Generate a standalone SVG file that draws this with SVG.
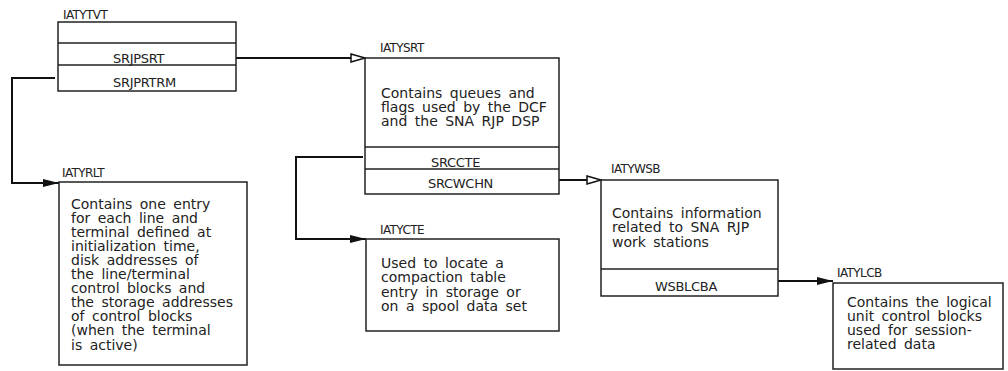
<svg xmlns="http://www.w3.org/2000/svg" width="1008" height="371" viewBox="0 0 1008 371">
<defs>
<style>
.box{fill:#fff;stroke:#222;stroke-width:1.5}
.div{stroke:#222;stroke-width:1.5}
.lbl{font-family:"DejaVu Sans",sans-serif;font-size:12px;fill:#222;letter-spacing:-0.6px}
.fld{font-family:"DejaVu Sans",sans-serif;font-size:13px;fill:#222;letter-spacing:-0.3px}
.txt{font-family:"DejaVu Sans",sans-serif;font-size:14px;fill:#222;word-spacing:3px}
.con{fill:none;stroke:#111;stroke-width:2}
</style>
<marker id="fa" viewBox="0 0 16 10" refX="16" refY="5" markerWidth="16" markerHeight="10" markerUnits="userSpaceOnUse" orient="auto">
<path d="M0,1 L16,5 L0,9 Z" fill="#111"/>
</marker>
<marker id="oa" viewBox="0 0 16 10" refX="15" refY="5" markerWidth="16" markerHeight="10" markerUnits="userSpaceOnUse" orient="auto">
<path d="M1,1 L15,5 L1,9 Z" fill="#fff" stroke="#111" stroke-width="1.5"/>
</marker>
</defs>
<rect width="1008" height="371" fill="#fff"/>

<g id="connectors">
<path class="con" d="M236,58 L365,58" marker-end="url(#oa)"/>
<path class="con" d="M55,78 L12,78 L12,183 L59,183" marker-end="url(#fa)"/>
<path class="con" d="M363,157 L296,157 L296,239 L366,239" marker-end="url(#fa)"/>
<path class="con" d="M559,180 L601,180" marker-end="url(#oa)"/>
<path class="con" d="M778,281 L833,281" marker-end="url(#fa)"/>
</g>

<g id="IATYTVT">
<text class="lbl" x="63" y="19">IATYTVT</text>
<rect class="box" x="58" y="22" width="178" height="69"/>
<line class="div" x1="58" y1="43" x2="236" y2="43"/>
<line class="div" x1="58" y1="65" x2="236" y2="65"/>
<text class="fld" x="113" y="63">SRJPSRT</text>
<text class="fld" x="113" y="87">SRJPRTRM</text>
</g>

<g id="IATYSRT">
<text class="lbl" x="380" y="52">IATYSRT</text>
<rect class="box" x="365" y="58" width="194" height="136"/>
<line class="div" x1="365" y1="147" x2="559" y2="147"/>
<line class="div" x1="365" y1="169" x2="559" y2="169"/>
<text class="txt" x="381" y="98">Contains queues and</text>
<text class="txt" x="381" y="112">flags used by the DCF</text>
<text class="txt" x="381" y="126">and the SNA RJP DSP</text>
<text class="fld" x="431" y="167">SRCCTE</text>
<text class="fld" x="428" y="188">SRCWCHN</text>
</g>

<g id="IATYRLT">
<text class="lbl" x="62" y="177">IATYRLT</text>
<rect class="box" x="59" y="182" width="188" height="183"/>
<text class="txt" x="71" y="208.5">Contains one entry</text>
<text class="txt" x="71" y="222.6">for each line and</text>
<text class="txt" x="71" y="236.7">terminal defined at</text>
<text class="txt" x="71" y="250.8">initialization time,</text>
<text class="txt" x="71" y="264.9">disk addresses of</text>
<text class="txt" x="71" y="279">the line/terminal</text>
<text class="txt" x="71" y="293.1">control blocks and</text>
<text class="txt" x="71" y="307.2">the storage addresses</text>
<text class="txt" x="71" y="321.3">of control blocks</text>
<text class="txt" x="71" y="335.4">(when the terminal</text>
<text class="txt" x="71" y="349.5">is active)</text>
</g>

<g id="IATYCTE">
<text class="lbl" x="380" y="234">IATYCTE</text>
<rect class="box" x="366" y="239" width="193" height="92"/>
<text class="txt" x="381" y="268">Used to locate a</text>
<text class="txt" x="381" y="282.3">compaction table</text>
<text class="txt" x="381" y="296.6">entry in storage or</text>
<text class="txt" x="381" y="311">on a spool data set</text>
</g>

<g id="IATYWSB">
<text class="lbl" x="611" y="173">IATYWSB</text>
<rect class="box" x="601" y="180" width="177" height="116"/>
<line class="div" x1="601" y1="269" x2="778" y2="269"/>
<text class="txt" x="612" y="218">Contains information</text>
<text class="txt" x="612" y="232.3">related to SNA RJP</text>
<text class="txt" x="612" y="246.6">work stations</text>
<text class="fld" x="686" y="291" text-anchor="middle">WSBLCBA</text>
</g>

<g id="IATYLCB">
<text class="lbl" x="837" y="277">IATYLCB</text>
<rect class="box" x="833" y="283" width="170" height="86"/>
<text class="txt" x="847" y="307">Contains the logical</text>
<text class="txt" x="847" y="321">unit control blocks</text>
<text class="txt" x="847" y="335">used for session-</text>
<text class="txt" x="847" y="349">related data</text>
</g>
</svg>
